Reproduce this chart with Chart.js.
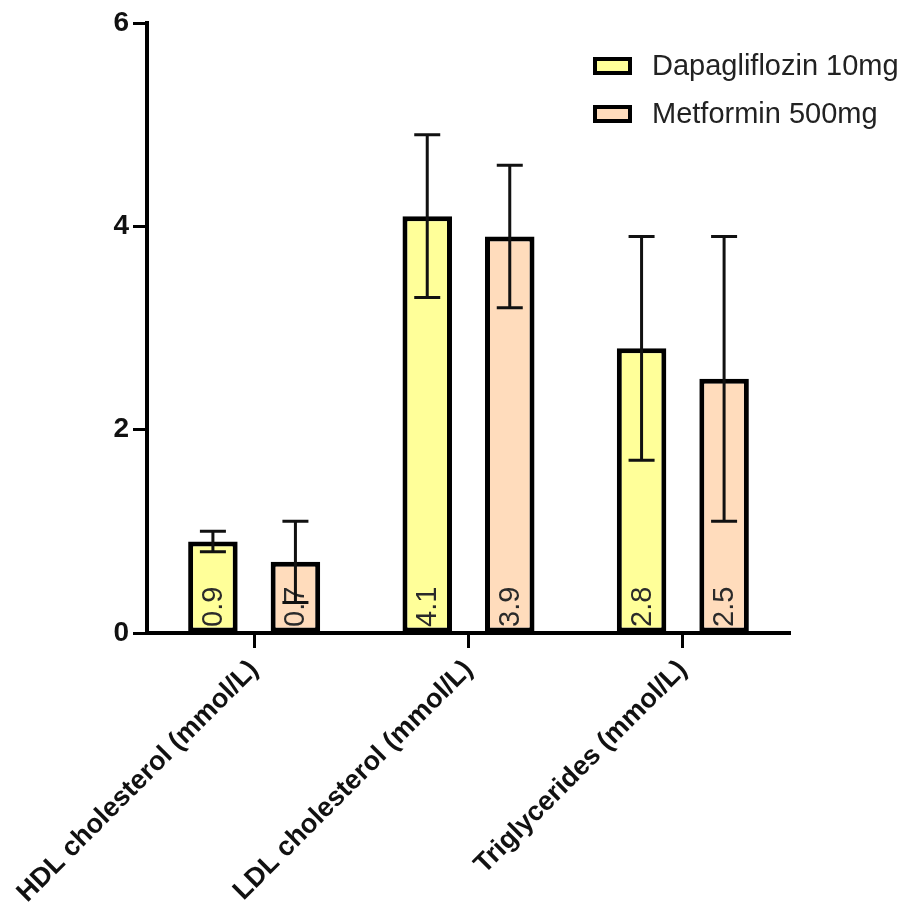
<!DOCTYPE html>
<html>
<head>
<meta charset="utf-8">
<script src="https://cdn.jsdelivr.net/npm/chart.js@4.4.1/dist/chart.umd.min.js"></script>
<style>
  html, body { margin: 0; padding: 0; background: #fff; }
  #wrap { width: 908px; height: 911px; }
</style>
</head>
<body>
<div id="wrap"><canvas id="chart" width="908" height="911"></canvas></div>
<script>
// ── Data ──
const categories = ['HDL cholesterol (mmol/L)', 'LDL cholesterol (mmol/L)', 'Triglycerides (mmol/L)'];
const seriesNames = ['Dapagliflozin 10mg', 'Metformin 500mg'];
const dapaMeans = [0.9, 4.1, 2.8];
const dapaLow   = [0.8, 3.3, 1.7];
const dapaHigh  = [1.0, 4.9, 3.9];
const metMeans  = [0.7, 3.9, 2.5];
const metLow    = [0.3, 3.2, 1.1];
const metHigh   = [1.1, 4.6, 3.9];
const yTicks    = [0, 2, 4, 6];

const FONT = "'Liberation Sans', Arial, Helvetica, sans-serif";
const colors = ['#ffff99', '#ffdcbc'];

// ── Error bars, value labels and legend ──
const extras = {
  id: 'extras',
  afterDatasetsDraw(chart) {
    const ctx = chart.ctx;
    const y = chart.scales.y;
    const area = chart.chartArea;

    // value labels, rotated, at the foot of each bar
    chart.data.datasets.forEach((ds, i) => {
      chart.getDatasetMeta(i).data.forEach((bar, j) => {
        ctx.save();
        ctx.translate(bar.x, area.bottom - 6);
        ctx.rotate(-Math.PI / 2);
        ctx.font = '29px ' + FONT;
        ctx.fillStyle = '#2a2a2a';
        ctx.textAlign = 'left';
        ctx.textBaseline = 'middle';
        ctx.fillText(ds.data[j].toFixed(1), 0, 1);
        ctx.restore();
      });
    });

    // error bars
    chart.data.datasets.forEach((ds, i) => {
      chart.getDatasetMeta(i).data.forEach((bar, j) => {
        const top = y.getPixelForValue(ds.errHigh[j]);
        const bot = y.getPixelForValue(ds.errLow[j]);
        const half = 13;
        ctx.save();
        ctx.strokeStyle = '#111';
        ctx.lineWidth = 3;
        ctx.beginPath();
        ctx.moveTo(bar.x, top); ctx.lineTo(bar.x, bot);
        ctx.moveTo(bar.x - half, top); ctx.lineTo(bar.x + half, top);
        ctx.moveTo(bar.x - half, bot); ctx.lineTo(bar.x + half, bot);
        ctx.stroke();
        ctx.restore();
      });
    });
  },
  afterDraw(chart) {
    const ctx = chart.ctx;
    const x0 = 593;
    chart.data.datasets.forEach((ds, i) => {
      const yc = 66 + i * 48;
      ctx.save();
      ctx.fillStyle = ds.backgroundColor;
      ctx.strokeStyle = '#000';
      ctx.lineWidth = 4;
      ctx.fillRect(x0 + 2, yc - 7, 35, 14);
      ctx.strokeRect(x0 + 2, yc - 7, 35, 14);
      ctx.font = '29px ' + FONT;
      ctx.fillStyle = '#222';
      ctx.textAlign = 'left';
      ctx.textBaseline = 'middle';
      ctx.fillText(ds.label, x0 + 59, yc + 1);
      ctx.restore();
    });
  }
};

// ── Chart ──
new Chart(document.getElementById('chart'), {
  type: 'bar',
  data: {
    labels: categories,
    datasets: [
      {
        label: seriesNames[0],
        data: dapaMeans,
        errLow: dapaLow,
        errHigh: dapaHigh,
        backgroundColor: colors[0],
        borderColor: '#000',
        borderWidth: 5,
        borderSkipped: false
      },
      {
        label: seriesNames[1],
        data: metMeans,
        errLow: metLow,
        errHigh: metHigh,
        backgroundColor: colors[1],
        borderColor: '#000',
        borderWidth: 5,
        borderSkipped: false
      }
    ]
  },
  options: {
    responsive: false,
    animation: false,
    devicePixelRatio: 1,
    categoryPercentage: 0.77,
    barPercentage: 0.6,
    layout: { padding: { top: 23, right: 118, left: 0, bottom: 0 } },
    plugins: {
      legend: { display: false },
      tooltip: { enabled: false }
    },
    scales: {
      x: {
        offset: true,
        grid: {
          display: true, drawOnChartArea: false, drawTicks: true,
          tickLength: 15, tickWidth: 3, tickColor: '#000', offset: false
        },
        border: { display: true, color: '#000', width: 4 },
        ticks: {
          color: '#111', autoSkip: false, maxRotation: 45, minRotation: 45, padding: 6,
          font: { family: FONT, size: 27, weight: 'bold' }
        },
        afterFit(s) { s.height = 278; s.paddingLeft = 0; s.paddingRight = 0; }
      },
      y: {
        min: yTicks[0],
        max: yTicks[yTicks.length - 1],
        afterBuildTicks(s) { s.ticks = yTicks.map(v => ({ value: v })); },
        grid: {
          display: true, drawOnChartArea: false, drawTicks: true,
          tickLength: 14, tickWidth: 3, tickColor: '#000'
        },
        border: { display: true, color: '#000', width: 4 },
        ticks: {
          color: '#111', padding: 4,
          font: { family: FONT, size: 28, weight: 'bold' }
        },
        afterFit(s) { s.width = 147; s.paddingTop = 0; s.paddingBottom = 0; }
      }
    }
  },
  plugins: [extras]
});
</script>
</body>
</html>
